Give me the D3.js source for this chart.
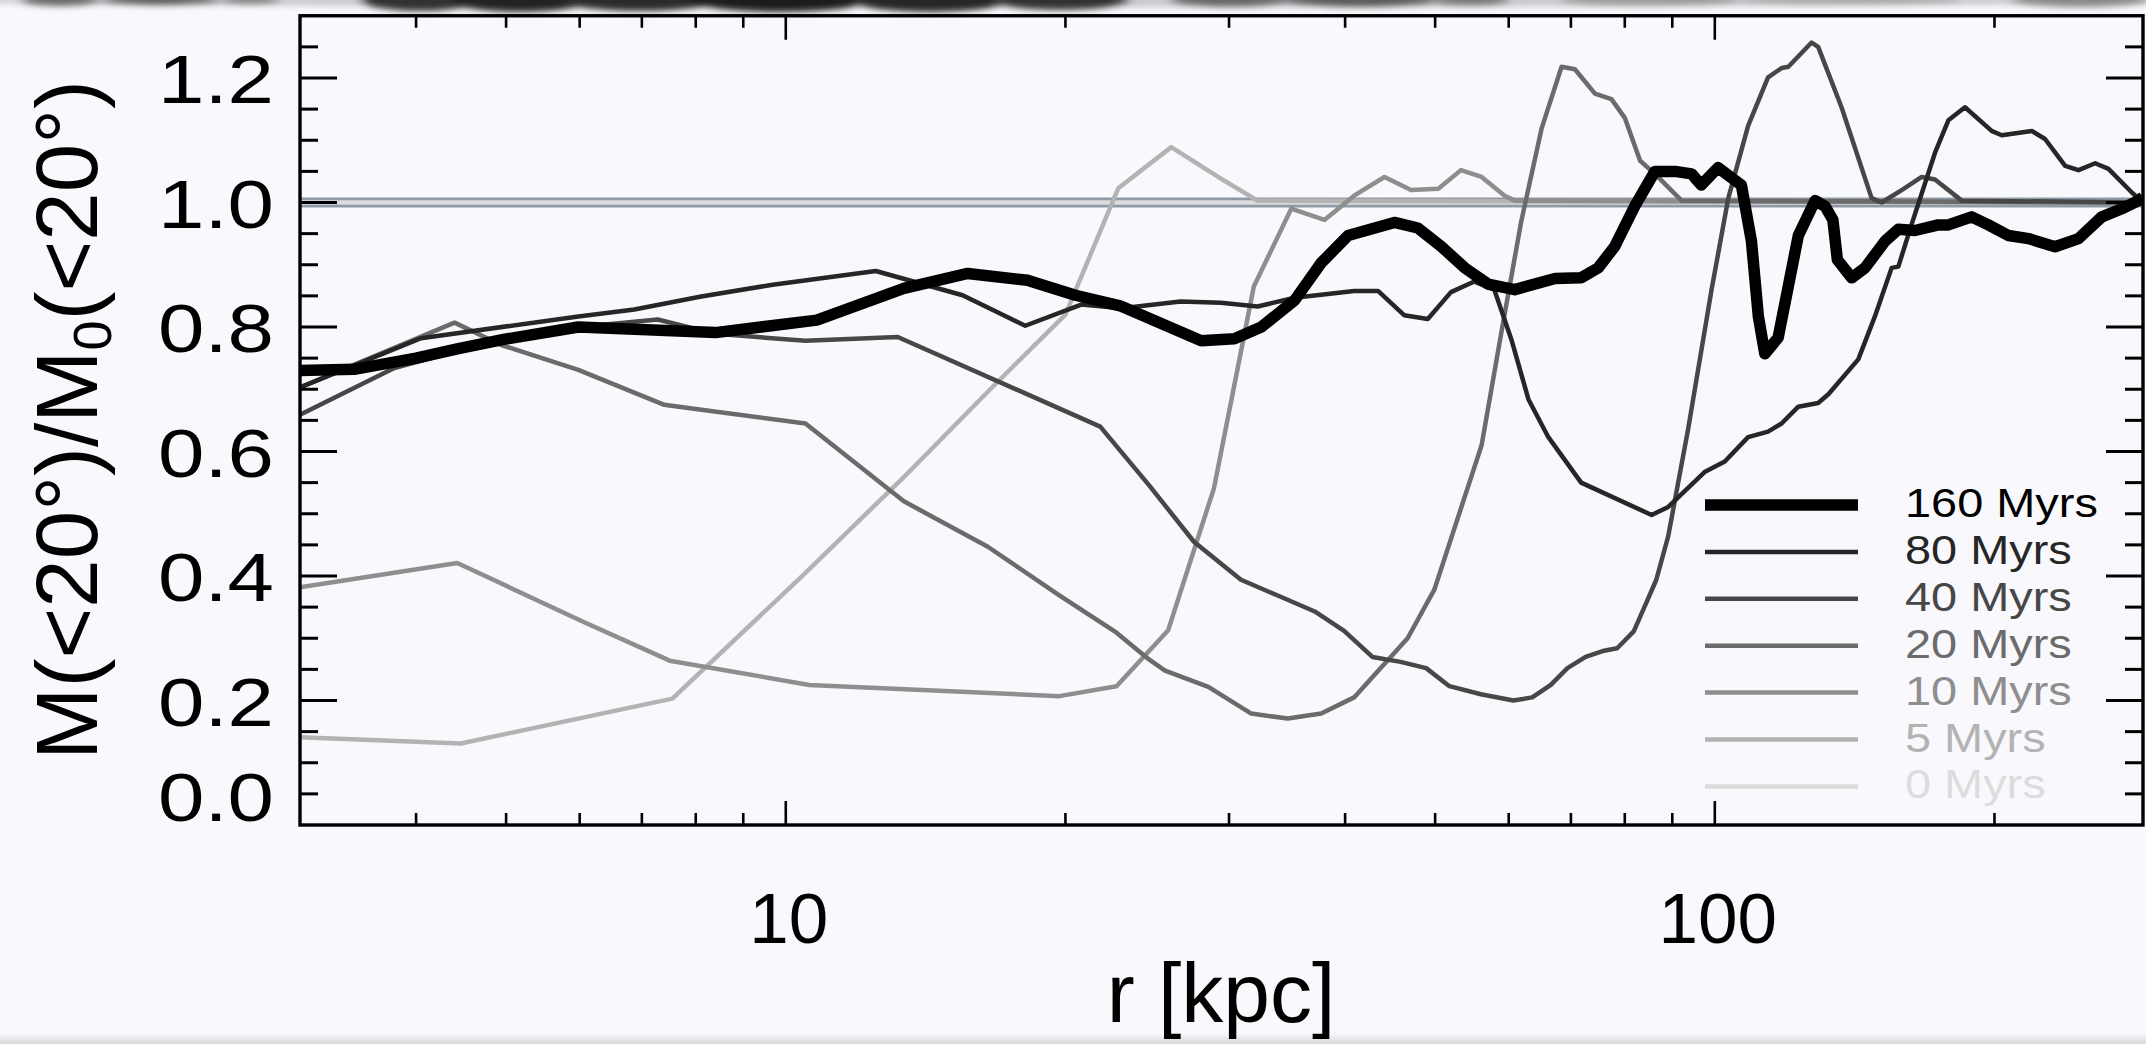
<!DOCTYPE html>
<html>
<head>
<meta charset="utf-8">
<script src="https://cdn.jsdelivr.net/npm/d3@7"></script>
<style>
  html, body { margin: 0; padding: 0; background: #f9f8fc; overflow: hidden; }
  svg { display: block; }
</style>
</head>
<body>
<svg id="chart" width="2146" height="1044"></svg>
<script>
// ---------------- DATA ----------------
const seriesLabels = ["160 Myrs", "80 Myrs", "40 Myrs", "20 Myrs", "10 Myrs", "5 Myrs", "0 Myrs"];
const seriesColors = ["#000000", "#262626", "#474747", "#6b6b6b", "#8e8e8e", "#b3b3b3", "#dcdcdc"];

const r160 = [3, 3.43, 4.0, 4.43, 4.97, 5.98, 8.4, 10.8, 13.4, 15.7, 18.2, 20.5, 22.9, 28.0, 30.4, 32.5, 35.3, 37.7, 40.3, 45.2, 47.9, 50.8, 53.8, 57.0, 60.9, 67.3, 71.8, 74.9, 78.0, 82.0, 86.2, 90.6, 94.4, 96.7, 100.8, 106.8, 109.5, 111.4, 113.2, 117.0, 123, 128.2, 131.4, 134.0, 135.5, 140.4, 145.1, 152.5, 157.6, 164.2, 174.0, 178.4, 189.0, 197.0, 207.0, 217.6, 232.4, 246.3, 261.0, 274.2, 285.8, 289];
const m160 = [0.730, 0.732, 0.750, 0.765, 0.780, 0.800, 0.791, 0.811, 0.862, 0.886, 0.875, 0.851, 0.834, 0.778, 0.781, 0.800, 0.843, 0.903, 0.947, 0.968, 0.959, 0.929, 0.895, 0.869, 0.860, 0.878, 0.879, 0.895, 0.929, 0.994, 1.050, 1.050, 1.046, 1.028, 1.056, 1.028, 0.938, 0.817, 0.757, 0.783, 0.947, 1.003, 0.994, 0.972, 0.908, 0.879, 0.895, 0.938, 0.957, 0.955, 0.964, 0.964, 0.977, 0.964, 0.947, 0.942, 0.929, 0.942, 0.977, 0.990, 1.003, 1.009];

const r80 = [3, 4.05, 5.98, 6.87, 8.11, 9.68, 12.5, 15.5, 18.1, 20.8, 23.0, 26.6, 29.4, 32.2, 35.3, 40.9, 43.4, 46.3, 49.1, 52.0, 55.1, 57.9, 60.4, 63.0, 66.2, 71.8, 85.5, 89.1, 97.5, 102.5, 108.6, 114.1, 118, 123, 129.2, 132.5, 142.7, 148.7, 155, 157.6, 162.8, 172.6, 178.4, 185.9, 198.6, 203.6, 219.4, 226.7, 238.3, 246.3, 256.7, 265.3, 281.1, 289];
const m80 = [0.703, 0.782, 0.817, 0.828, 0.849, 0.868, 0.890, 0.851, 0.802, 0.836, 0.830, 0.841, 0.839, 0.833, 0.847, 0.858, 0.858, 0.819, 0.813, 0.856, 0.873, 0.860, 0.780, 0.684, 0.623, 0.550, 0.498, 0.511, 0.567, 0.584, 0.623, 0.632, 0.645, 0.672, 0.678, 0.692, 0.748, 0.817, 0.895, 0.897, 0.964, 1.080, 1.132, 1.153, 1.115, 1.108, 1.115, 1.102, 1.059, 1.052, 1.063, 1.054, 1.016, 1.000];

const r40 = [3, 3.79, 4.4, 6.0, 7.28, 8.4, 10.5, 13.2, 21.8, 24.6, 27.5, 30.9, 33.8, 37.1, 39.9, 42.8, 45.9, 48.9, 51.8, 56.0, 60.7, 63.6, 66.6, 69.4, 72.6, 76.0, 78.5, 81.8, 84.6, 86.5, 89.1, 93.6, 99.2, 103.4, 108.6, 114.1, 118, 120, 127.1, 129.2, 136.9, 147.5, 151.2, 158.9, 167, 172.6, 184.4, 289];
const m40 = [0.659, 0.734, 0.760, 0.800, 0.812, 0.789, 0.778, 0.784, 0.640, 0.546, 0.455, 0.394, 0.369, 0.343, 0.312, 0.270, 0.262, 0.252, 0.223, 0.210, 0.200, 0.205, 0.225, 0.252, 0.270, 0.280, 0.284, 0.311, 0.361, 0.394, 0.464, 0.636, 0.860, 1.007, 1.123, 1.201, 1.216, 1.218, 1.257, 1.250, 1.153, 1.007, 1.000, 1.020, 1.041, 1.037, 1.003, 1.000];

const r20 = [3, 4.40, 4.94, 5.98, 7.40, 8.11, 10.5, 13.4, 16.5, 19.7, 22.7, 24.6, 25.6, 28.5, 31.7, 34.7, 37.7, 40.9, 46.7, 49.9, 56.1, 58.9, 61.9, 65.1, 68.4, 70.7, 74.3, 77.4, 80.0, 83.1, 86.2, 92.1, 289];
const m20 = [0.703, 0.807, 0.771, 0.731, 0.675, 0.667, 0.645, 0.520, 0.447, 0.369, 0.309, 0.266, 0.248, 0.222, 0.179, 0.171, 0.179, 0.205, 0.300, 0.378, 0.610, 0.790, 0.970, 1.119, 1.218, 1.214, 1.175, 1.166, 1.136, 1.067, 1.046, 1.003, 1.000];

const r10 = [3, 4.43, 6.06, 7.5, 10.6, 19.7, 22.7, 25.8, 28.9, 31.9, 35.0, 38.0, 40.9, 44.1, 47.1, 50.4, 53.3, 56.1, 59.4, 60.9, 289];
const m10 = [0.382, 0.421, 0.326, 0.264, 0.225, 0.207, 0.223, 0.313, 0.541, 0.865, 0.990, 0.972, 1.011, 1.041, 1.020, 1.022, 1.052, 1.041, 1.011, 1.003, 1.000];

const r5 = [3, 4.47, 7.55, 10.4, 13.4, 16.6, 20.0, 22.8, 26.0, 29.2, 32.2, 289];
const m5 = [0.141, 0.131, 0.203, 0.399, 0.559, 0.700, 0.820, 1.023, 1.089, 1.041, 1.003, 1.000];

const r0 = [3, 289];
const m0 = [1.0, 1.0];

const xTickMajor = [10, 100];
const xTickLabels = ["10", "100"];
const xTickMinor = [4, 5, 6, 7, 8, 9, 20, 30, 40, 50, 60, 70, 80, 90, 200];
const yTickMajor = [0, 0.2, 0.4, 0.6, 0.8, 1.0, 1.2];
const yTickLabels = ["0.0", "0.2", "0.4", "0.6", "0.8", "1.0", "1.2"];
const yTickMinor = [0.05, 0.1, 0.15, 0.25, 0.3, 0.35, 0.45, 0.5, 0.55, 0.65, 0.7, 0.75, 0.85, 0.9, 0.95, 1.05, 1.1, 1.15, 1.25];
const xDomain = [3, 289];
const yDomain = [0, 1.3];
const xTitle = "r [kpc]";

// ---------------- LAYOUT ----------------
const FONT = "'Liberation Sans', Arial, Helvetica, sans-serif";
const plot = { left: 300, right: 2143, top: 15.75, bottom: 825 };
const svg = d3.select("#chart");

const x = d3.scaleLog().domain(xDomain).range([plot.left, plot.right]);
const y = d3.scaleLinear().domain(yDomain).range([plot.bottom, plot.top]);

svg.append("rect").attr("width", 2146).attr("height", 1044).attr("fill", "#f9f8fc");

const defs = svg.append("defs");
defs.append("filter").attr("id", "blur").attr("filterUnits", "userSpaceOnUse")
  .attr("x", -50).attr("y", -50).attr("width", 2250).attr("height", 1150)
  .append("feGaussianBlur").attr("stdDeviation", "5 3");
defs.append("clipPath").attr("id", "plotclip").append("rect")
  .attr("x", plot.left).attr("y", plot.top).attr("width", plot.right - plot.left).attr("height", plot.bottom - plot.top);

// scanner smudges along the top and bottom edge (decoration)
const smudgeBlobs = [
  [1073, 1200, 7, "#c9c9cd"],
  [60, 40, 6, "#666"], [160, 60, 5, "#555"], [250, 30, 4, "#777"],
  [420, 60, 11, "#333"], [520, 70, 12, "#222"], [640, 80, 11, "#2a2a2a"],
  [780, 90, 12, "#1e1e1e"], [930, 80, 12, "#262626"], [1060, 70, 10, "#333"],
  [1230, 60, 7, "#666"], [1360, 80, 7, "#5a5a5a"], [1470, 40, 6, "#777"],
  [1650, 90, 6, "#999"], [1850, 110, 5, "#a5a5a5"], [2080, 70, 7, "#888"]
];
const smudge = svg.append("g").attr("filter", "url(#blur)");
smudgeBlobs.forEach(b => {
  smudge.append("ellipse").attr("cx", b[0]).attr("cy", 0)
    .attr("rx", b[1]).attr("ry", b[2]).attr("fill", b[3]);
});
smudge.append("rect").attr("x", -20).attr("y", 1038).attr("width", 2200).attr("height", 12).attr("fill", "#dcdce0");

// ---------------- DATA LINES ----------------
const series = [
  { label: seriesLabels[0], r: r160, m: m160, color: seriesColors[0], width: 11.5 },
  { label: seriesLabels[1], r: r80,  m: m80,  color: seriesColors[1], width: 4.5 },
  { label: seriesLabels[2], r: r40,  m: m40,  color: seriesColors[2], width: 4.5 },
  { label: seriesLabels[3], r: r20,  m: m20,  color: seriesColors[3], width: 4.5 },
  { label: seriesLabels[4], r: r10,  m: m10,  color: seriesColors[4], width: 4.5 },
  { label: seriesLabels[5], r: r5,   m: m5,   color: seriesColors[5], width: 4.5 },
  { label: seriesLabels[6], r: r0,   m: m0,   color: seriesColors[6], width: 4.5 }
];

const line = d3.line().x(d => x(d[0])).y(d => y(d[1]));
const dataG = svg.append("g").attr("clip-path", "url(#plotclip)");

dataG.append("path")
  .datum(r0.map((r, i) => [r, m0[i]]))
  .attr("d", line).attr("fill", "none").attr("stroke", "#8f99a7").attr("stroke-width", 10);

series.slice().reverse().forEach(s => {
  dataG.append("path")
    .datum(s.r.map((r, i) => [r, s.m[i]]))
    .attr("d", line)
    .attr("fill", "none")
    .attr("stroke", s.color)
    .attr("stroke-width", s.width)
    .attr("stroke-linejoin", "round")
    .attr("stroke-linecap", "butt");
});

// ---------------- FRAME & TICKS ----------------
const axisG = svg.append("g").attr("stroke", "#000");
axisG.append("rect")
  .attr("x", plot.left).attr("y", plot.top)
  .attr("width", plot.right - plot.left).attr("height", plot.bottom - plot.top)
  .attr("fill", "none").attr("stroke-width", 3.4);

function yTicks(vals, len) {
  vals.forEach(v => {
    axisG.append("line").attr("x1", plot.left).attr("x2", plot.left + len)
      .attr("y1", y(v)).attr("y2", y(v)).attr("stroke-width", 3);
    axisG.append("line").attr("x1", plot.right).attr("x2", plot.right - len)
      .attr("y1", y(v)).attr("y2", y(v)).attr("stroke-width", 3);
  });
}
yTicks(yTickMajor.filter(v => v > 0), 37);
yTicks(yTickMinor, 18);

function xTicks(vals, len) {
  vals.forEach(v => {
    axisG.append("line").attr("x1", x(v)).attr("x2", x(v))
      .attr("y1", plot.bottom).attr("y2", plot.bottom - len).attr("stroke-width", 2.6);
    axisG.append("line").attr("x1", x(v)).attr("x2", x(v))
      .attr("y1", plot.top).attr("y2", plot.top + len).attr("stroke-width", 2.6);
  });
}
xTicks(xTickMajor, 24);
xTicks(xTickMinor, 12);

// ---------------- TICK LABELS ----------------
const textG = svg.append("g").attr("font-family", FONT).attr("fill", "#000");

yTickMajor.forEach((v, i) => {
  const base = v === 0 ? 821 : y(v) + 25;
  textG.append("text")
    .attr("x", 274).attr("y", base)
    .attr("text-anchor", "end")
    .attr("font-size", 69)
    .attr("textLength", 116).attr("lengthAdjust", "spacingAndGlyphs")
    .text(yTickLabels[i]);
});

xTickMajor.forEach((v, i) => {
  textG.append("text")
    .attr("x", x(v) + 3).attr("y", 943)
    .attr("text-anchor", "middle")
    .attr("font-size", 71)
    .text(xTickLabels[i]);
});

textG.append("text")
  .attr("x", 1221).attr("y", 1022)
  .attr("text-anchor", "middle").attr("font-size", 84)
  .text(xTitle);

const yt = textG.append("text")
  .attr("transform", "translate(97,420) rotate(-90)")
  .attr("text-anchor", "middle").attr("font-size", 87);
yt.append("tspan").text("M(<20°)/M");
yt.append("tspan").attr("font-size", 54).attr("dy", 14).text("0");
yt.append("tspan").attr("font-size", 87).attr("dy", -14).text("(<20°)");

// ---------------- LEGEND ----------------
const legG = svg.append("g").attr("font-family", FONT);
series.forEach((s, i) => {
  const ly = 505 + i * 46.9;
  legG.append("line")
    .attr("x1", 1705).attr("x2", 1858).attr("y1", ly).attr("y2", ly)
    .attr("stroke", s.color).attr("stroke-width", i === 0 ? 11.5 : 4.5);
  const t = legG.append("text")
    .attr("x", 1905).attr("y", ly + 12)
    .attr("font-size", 41.5).attr("fill", s.color)
    .text(s.label);
  const w = t.node().getComputedTextLength();
  t.attr("textLength", w * 1.13).attr("lengthAdjust", "spacingAndGlyphs");
});
</script>
</body>
</html>
